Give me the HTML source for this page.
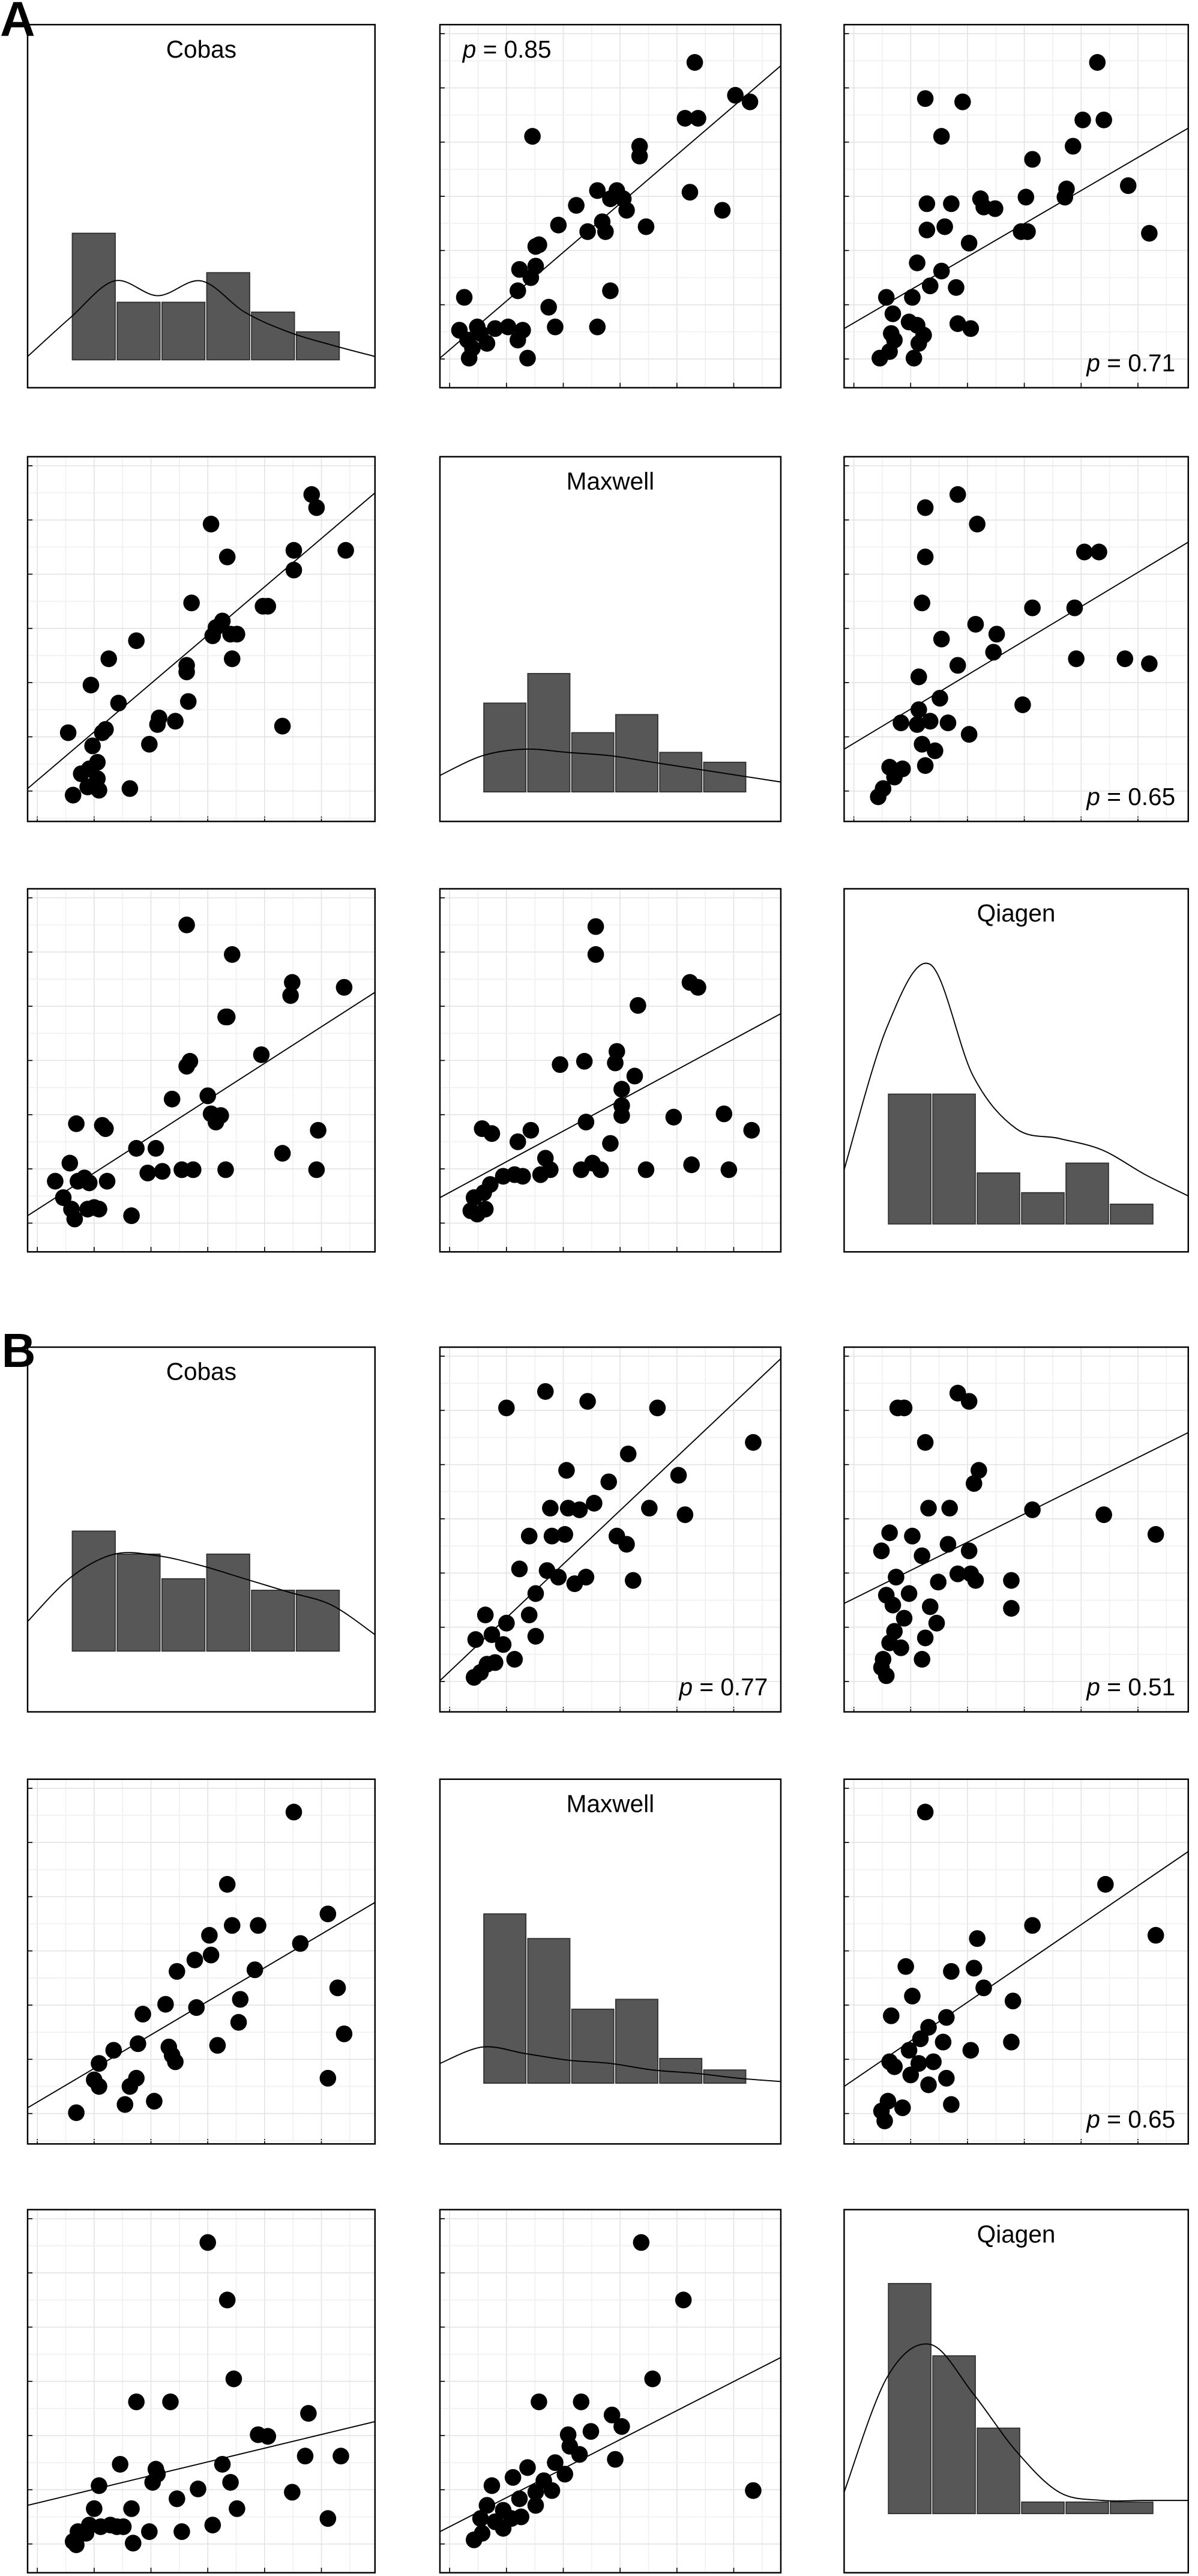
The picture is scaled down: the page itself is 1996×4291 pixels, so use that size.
<!DOCTYPE html>
<html>
<head>
<meta charset="utf-8">
<style>
html,body{margin:0;padding:0;background:#fff;}
svg{display:block;}
text{font-family:"Liberation Sans","DejaVu Sans",sans-serif;}
</style>
</head>
<body>
<svg id="fig" width="1996" height="4291" viewBox="0 0 738 1568" preserveAspectRatio="none" xmlns="http://www.w3.org/2000/svg">
<text x="0" y="22" font-size="30" font-weight="bold">A</text>
<text x="1" y="832" font-size="29" font-weight="bold">B</text>
</svg>
<script>
// ---- panel geometry (frames) ----
const cols=[[17,231],[271,481],[520,732]];
const rowsY=[[15,236],[278,500],[541,762],[820,1042],[1083,1305],[1345,1566]];

// ---- histogram data (bar heights as counts, relative) ----
const histA1=[77,35,35,53,29,17];
const histA5=[54,72,36,47,24,18];
const histA9=[79,79,31,19,37,12];
const histB1=[73,59,44,59,37,37];
const histB5=[103,88,45,51,15,8];
const histB9=[140,96,52,7,7,7];
// density curve values (evaluated at 9 evenly spaced x positions)
const densA1=[1,25,47,38,47,28,16,8,1];
const densA5=[8,20,24,22,20,16,12,8,4];
const densA9=[33,120,158,90,58,52,45,30,17];
const densB1=[18,45,59,58,52,44,36,28,10];
const densB5=[12,22,18,14,12,8,6,3,1];
const densB9=[10,80,100,70,35,10,5,5,5];

// ---- scatter data (x values, y values) ----
const sA2x=[428,453,462,422,430,328,394,394,425,445,355,368,380,376,384,386,371,344,362,398,373,332,330,320,330,327,319,376,286,338,294,283,288,296,300,305,313,319,322,289,291,325,342,368];
const sA2y=[38,58,62,72,72,83,89,95,117,128,125,116,116,121,121,128,135,137,141,138,141,149,150,164,162,169,177,177,181,187,199,201,207,203,209,200,199,207,201,218,212,218,199,199];
const sA3x=[676,570,593,667,680,661,580,636,632,604,606,571,586,613,657,656,695,629,633,708,571,582,597,565,580,573,546,562,589,590,598,550,560,549,551,565,569,566,542,563,548];
const sA3y=[38,60,62,73,73,89,83,97,120,121,126,124,124,127,115,120,113,141,141,142,140,138,148,160,165,174,181,181,175,197,200,191,196,203,207,198,204,209,218,218,214];
const sA4x=[192,195,130,213,181,181,140,118,137,133,142,131,146,162,165,143,115,115,84,67,73,56,116,65,98,97,108,92,174,42,63,57,60,55,60,54,45,80,61,50];
const sA4y=[301,309,319,335,335,347,339,367,378,382,386,387,386,369,369,401,405,409,390,401,428,417,427,444,437,441,439,453,442,446,446,454,464,468,474,479,484,480,481,471];
const sA6x=[590,570,602,668,677,570,568,601,614,636,662,580,663,590,612,566,630,579,566,555,565,573,584,597,568,576,570,548,556,551,544,541,693,708];
const sA6y=[301,309,319,336,336,339,367,380,386,370,370,389,401,405,397,412,429,425,432,440,441,439,440,447,453,457,466,467,468,473,480,485,401,404];
const sA7x=[115,143,180,212,179,139,140,115,117,161,128,130,133,136,196,174,106,63,65,47,43,96,84,112,119,91,100,139,195,34,48,52,55,66,39,44,54,58,61,81,46];
const sA7y=[563,581,598,601,606,619,619,649,646,642,667,678,683,679,688,702,669,685,687,684,708,699,699,712,712,714,713,712,712,719,719,717,720,719,729,736,736,735,736,740,742];
const sA8x=[367,367,393,425,430,345,360,379,380,383,391,383,383,297,303,327,319,361,376,415,446,463,336,317,322,333,339,310,302,358,292,298,290,299,294,398,426,449,365,370];
const sA8y=[564,581,612,598,601,648,646,647,640,663,655,673,679,687,690,688,695,683,696,680,678,688,705,715,716,715,712,716,721,712,729,726,737,736,739,712,709,712,708,712];
const sB2x=[312,336,362,405,464,349,387,375,418,339,350,357,366,400,422,340,348,326,380,386,320,337,344,354,361,390,330,326,299,312,303,293,310,330,317,305,300,292,296];
const sB2y=[857,847,853,857,878,895,885,902,898,918,918,919,915,918,922,935,934,935,935,940,955,956,960,964,960,962,970,983,983,988,995,998,1001,996,1010,1012,1013,1021,1018];
const sB3x=[553,557,590,597,570,603,585,572,600,636,680,712,548,562,543,584,568,597,578,590,598,601,623,623,552,546,560,550,573,557,577,551,570,548,555,544,568,543,546];
const sB3y=[857,857,848,853,878,895,918,918,903,919,922,934,933,935,944,940,947,944,963,958,958,962,962,979,960,971,970,977,978,985,988,993,997,1000,1003,1010,1010,1015,1020];
const sB4x=[181,140,202,129,130,143,159,120,157,185,109,148,208,102,88,121,147,212,134,70,85,106,108,61,84,80,202,58,61,77,95,47,104];
const sB4y=[1103,1147,1165,1178,1190,1172,1172,1193,1199,1183,1200,1217,1210,1220,1226,1222,1231,1238,1245,1248,1244,1251,1255,1256,1265,1270,1265,1266,1270,1281,1279,1286,1246];
const sB6x=[570,681,712,636,602,600,558,586,606,562,624,549,583,572,567,581,623,598,560,566,575,551,561,583,572,586,547,543,556,545,548];
const sB6y=[1103,1147,1178,1172,1180,1198,1197,1200,1210,1215,1218,1227,1228,1234,1241,1243,1243,1248,1248,1256,1255,1258,1263,1265,1269,1281,1279,1285,1283,1291,1255];
const sB7x=[128,140,144,84,105,190,159,165,74,96,97,188,210,137,122,142,94,61,109,146,180,58,81,55,62,68,72,76,92,112,131,202,48,53,45,47,82];
const sB7y=[1365,1400,1448,1462,1462,1469,1482,1483,1500,1503,1506,1495,1495,1500,1515,1511,1511,1513,1521,1527,1517,1527,1527,1537,1538,1537,1538,1538,1541,1541,1537,1533,1541,1542,1547,1549,1548];
const sB8x=[395,421,402,332,358,377,350,364,383,351,342,357,325,348,379,316,335,330,303,340,300,320,310,315,321,296,305,310,292,297,464,330];
const sB8y=[1365,1400,1448,1462,1462,1470,1482,1480,1477,1489,1499,1494,1502,1506,1497,1508,1510,1517,1513,1516,1525,1521,1528,1533,1532,1533,1535,1539,1546,1542,1516,1525];
// regression line values at left and right edge
const fitA2=[218,40], fitA3=[200,78], fitA4=[480,300], fitA6=[456,330], fitA7=[740,604], fitA8=[729,617];
const fitB2=[1023,827], fitB3=[976,872], fitB4=[1283,1158], fitB6=[1270,1127], fitB7=[1525,1474], fitB8=[1541,1435];

const NS="http://www.w3.org/2000/svg";
const svg=document.getElementById('fig');
function mk(tag,attrs,parent){const e=document.createElementNS(NS,tag);for(const k in attrs)e.setAttribute(k,attrs[k]);(parent||svg).appendChild(e);return e;}
function linear(d0,d1,r0,r1){return v=>r0+(v-d0)*(r1-r0)/(d1-d0);}

function frame(ci,ri,name){
  const g=mk('g',{});
  
  
  const [x0,x1]=cols[ci],[y0,y1]=rowsY[ri];
  return {g,x0,x1,y0,y1};
}
function border(p){
  const r=mk('rect',{x:p.x0,y:p.y0,width:p.x1-p.x0,height:p.y1-p.y0,fill:'none',stroke:'#000','stroke-width':0.9},p.g);
  
  
}

function hist(ci,ri,name,title,counts,dens,bottomOff,baseCurve){
  const p=frame(ci,ri,name);
  const w=p.x1-p.x0;
  const base=p.y1-bottomOff;
  const xs=linear(0,6,p.x0+0.126*w,p.x0+0.9*w);
  const ys=linear(0,100,base,base-100);
  counts.forEach((c,i)=>{
    const b=mk('rect',{x:xs(i)+0.6,y:ys(c),width:xs(1)-xs(0)-1.2,height:base-ys(c),fill:'#575757',stroke:'#333','stroke-width':0.7},p.g);
    
    
  });
  const dx=linear(0,dens.length-1,p.x0,p.x1);
  const dy=linear(0,100,baseCurve,baseCurve-100);
  const pts=dens.map((v,i)=>[dx(i),dy(v)]);
  let d='M'+pts[0][0]+','+pts[0][1];
  for(let i=0;i<pts.length-1;i++){
    const p0=pts[Math.max(0,i-1)],p1=pts[i],p2=pts[i+1],p3=pts[Math.min(pts.length-1,i+2)];
    d+=' C'+(p1[0]+(p2[0]-p0[0])/6)+','+(p1[1]+(p2[1]-p0[1])/6)+' '+(p2[0]-(p3[0]-p1[0])/6)+','+(p2[1]-(p3[1]-p1[1])/6)+' '+p2[0]+','+p2[1];
  }
  const c=mk('path',{d:d,fill:'none',stroke:'#000','stroke-width':0.7},p.g);
  
  
  const t=mk('text',{x:(p.x0+p.x1)/2+(ci===0?0:0),y:p.y0+20,'font-size':15,'text-anchor':'middle'},p.g);
  t.textContent=title;
  
  
  border(p);
}

function scatter(ci,ri,name,xsv,ysv,fit,label,labelPos){
  const p=frame(ci,ri,name);
  const xs=linear(p.x0,p.x1,p.x0,p.x1);
  const ys=linear(p.y0,p.y1,p.y0,p.y1);
  const w=p.x1-p.x0,h=p.y1-p.y0;
  // grid
  for(let k=0;k<12;k++){
    const gx=p.x0+6+k*17.5; if(gx>=p.x1-1)break;
    const l=mk('line',{x1:gx,x2:gx,y1:p.y0,y2:p.y1,stroke:k%2?'#f0f0f0':'#e3e3e3','stroke-width':0.6},p.g);
    
    
    if(k%2===0){const t=mk('line',{x1:gx,x2:gx,y1:p.y1,y2:p.y1-3,stroke:'#000','stroke-width':0.6},p.g);
      
      }
  }
  for(let k=0;k<14;k++){
    const gy=p.y0+5.5+k*16.5; if(gy>=p.y1-1)break;
    const l=mk('line',{y1:gy,y2:gy,x1:p.x0,x2:p.x1,stroke:k%2?'#f0f0f0':'#e3e3e3','stroke-width':0.6},p.g);
    
    
    if(k%2===0){const t=mk('line',{y1:gy,y2:gy,x1:p.x0,x2:p.x0+3,stroke:'#000','stroke-width':0.6},p.g);
      
      }
  }
  const ln=mk('line',{x1:p.x0,y1:ys(fit[0]),x2:p.x1,y2:ys(fit[1]),stroke:'#000','stroke-width':0.7},p.g);
  
  
  xsv.forEach((v,i)=>{
    const c=mk('circle',{cx:xs(v),cy:ys(ysv[i]),r:5.1,fill:'#000'},p.g);
    
    
  });
  if(label){
    const t=mk('text',{x:labelPos==='tl'?p.x0+14:p.x1-8,y:labelPos==='tl'?p.y0+20:p.y1-10,'font-size':15,'text-anchor':labelPos==='tl'?'start':'end'},p.g);
    
    
    const s=mk('tspan',{'font-style':'italic'},t);s.textContent='p';
    const s2=mk('tspan',{},t);s2.textContent=' = '+label;
  }
  border(p);
}

hist(0,0,'hist-cobas-a','Cobas',histA1,densA1,17,218);
scatter(1,0,'scatter-a-r1c2',sA2x,sA2y,fitA2,'0.85','tl');
scatter(2,0,'scatter-a-r1c3',sA3x,sA3y,fitA3,'0.71','br');
scatter(0,1,'scatter-a-r2c1',sA4x,sA4y,fitA4,null);
hist(1,1,'hist-maxwell-a','Maxwell',histA5,densA5,18,480);
scatter(2,1,'scatter-a-r2c3',sA6x,sA6y,fitA6,'0.65','br');
scatter(0,2,'scatter-a-r3c1',sA7x,sA7y,fitA7,null);
scatter(1,2,'scatter-a-r3c2',sA8x,sA8y,fitA8,null);
hist(2,2,'hist-qiagen-a','Qiagen',histA9,densA9,17,745);
hist(0,3,'hist-cobas-b','Cobas',histB1,densB1,37,1005);
scatter(1,3,'scatter-b-r1c2',sB2x,sB2y,fitB2,'0.77','br');
scatter(2,3,'scatter-b-r1c3',sB3x,sB3y,fitB3,'0.51','br');
scatter(0,4,'scatter-b-r2c1',sB4x,sB4y,fitB4,null);
hist(1,4,'hist-maxwell-b','Maxwell',histB5,densB5,37,1268);
scatter(2,4,'scatter-b-r2c3',sB6x,sB6y,fitB6,'0.65','br');
scatter(0,5,'scatter-b-r3c1',sB7x,sB7y,fitB7,null);
scatter(1,5,'scatter-b-r3c2',sB8x,sB8y,fitB8,null);
hist(2,5,'hist-qiagen-b','Qiagen',histB9,densB9,36,1527);
</script>
</body>
</html>
